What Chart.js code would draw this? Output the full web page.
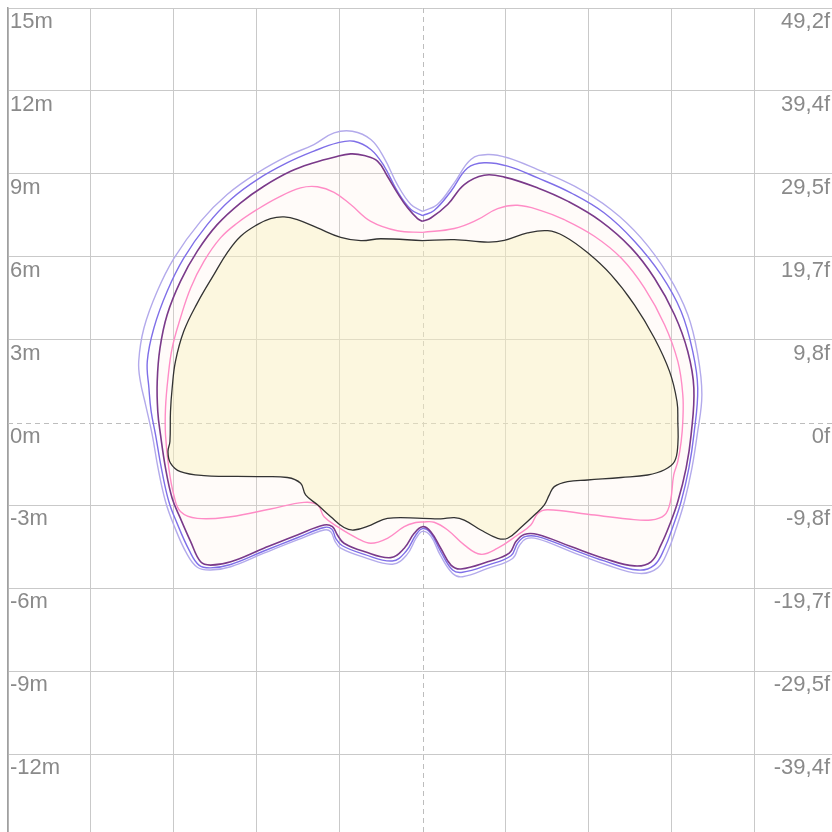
<!DOCTYPE html>
<html>
<head>
<meta charset="utf-8">
<script src="https://cdn.jsdelivr.net/npm/chart.js@4"></script>
<style>
  html, body { margin: 0; padding: 0; overflow: hidden; background: #fff; }
  #wrap { position: absolute; left: 0; top: 0; width: 837px; height: 837px; }
</style>
</head>
<body>
<div id="wrap"><canvas id="chart"></canvas></div>
<script>
// Axis ticks (metres on the left, feet on the right)
const tickValues = [15, 12, 9, 6, 3, 0, -3, -6, -9, -12, -15];
const metreLabels = ['15m', '12m', '9m', '6m', '3m', '0m', '-3m', '-6m', '-9m', '-12m', '-15m'];
const feetLabels = ['49,2f', '39,4f', '29,5f', '19,7f', '9,8f', '0f', '-9,8f', '-19,7f', '-29,5f', '-39,4f', '-49,2f'];

// Contours, [x, y] in metres
const innerBlack = [
  [0, 6.58], [-1.51, 6.65], [-2.23, 6.58], [-2.96, 6.70], [-3.80, 7.04], [-4.53, 7.34], [-5.01, 7.44],
  [-5.50, 7.38], [-5.98, 7.16], [-6.58, 6.74], [-7.07, 6.14], [-7.55, 5.35], [-8.15, 4.32], [-8.64, 3.30],
  [-8.94, 2.21], [-9.06, 1.24], [-9.12, 0.40], [-9.14, -0.69], [-9.21, -1.05], [-9.12, -1.47], [-8.76, -1.78],
  [-7.91, -1.92], [-5.98, -1.96], [-4.89, -1.99], [-4.41, -2.20], [-4.23, -2.62], [-3.80, -2.98], [-3.32, -3.41],
  [-2.84, -3.80], [-2.48, -3.89], [-1.87, -3.71], [-1.27, -3.47], [0, -3.47], [0.66, -3.49], [1.15, -3.44],
  [1.51, -3.53], [2.11, -3.89], [2.72, -4.19], [3.08, -4.19], [3.56, -3.80], [4.05, -3.35], [4.41, -2.98],
  [4.59, -2.62], [4.77, -2.32], [5.25, -2.14], [5.98, -2.08], [7.19, -1.99], [8.15, -1.90], [8.76, -1.71],
  [9.12, -1.41], [9.24, -0.81], [9.24, 0.04], [9.21, 0.76], [8.94, 1.85], [8.39, 3.06], [7.67, 4.26],
  [6.82, 5.35], [5.98, 6.14], [5.13, 6.74], [4.53, 6.94], [3.80, 6.86], [2.96, 6.59], [2.36, 6.53],
  [1.15, 6.62], [0, 6.58]
];
const pinkLine = [
  [0, 6.88], [-0.91, 6.94], [-1.87, 7.28], [-2.60, 7.89], [-3.20, 8.33], [-3.80, 8.53], [-4.41, 8.49],
  [-5.25, 8.13], [-5.98, 7.71], [-6.70, 7.22], [-7.31, 6.68], [-7.91, 5.83], [-8.39, 4.87], [-8.76, 3.78],
  [-9.06, 2.69], [-9.21, 1.61], [-9.30, 0.52], [-9.30, -0.45], [-9.18, -1.65], [-9.00, -2.62], [-8.76, -3.22],
  [-8.15, -3.47], [-6.94, -3.41], [-5.50, -3.13], [-4.29, -2.89], [-3.80, -2.98], [-3.56, -3.41], [-3.08, -3.77],
  [-2.36, -4.19], [-1.87, -4.37], [-1.27, -4.19], [-0.66, -3.77], [-0.24, -3.62], [0, -3.60], [0.42, -3.61],
  [0.91, -3.89], [1.51, -4.43], [2.11, -4.77], [2.72, -4.55], [3.44, -4.07], [3.92, -3.71], [4.17, -3.29],
  [4.53, -3.16], [5.98, -3.32], [7.43, -3.49], [8.27, -3.53], [8.76, -3.35], [8.97, -2.86], [9.09, -1.90],
  [9.24, -1.41], [9.36, -0.69], [9.42, 0.04], [9.42, 1.00], [9.24, 2.21], [8.76, 3.54], [8.03, 4.87],
  [7.19, 5.95], [6.22, 6.74], [5.13, 7.34], [4.29, 7.67], [3.44, 7.86], [2.72, 7.74], [1.99, 7.34],
  [1.15, 7.02], [0, 6.88]
];
const purpleLine = [
  [0, 7.28], [-0.18, 7.38], [-0.54, 7.77], [-0.91, 8.31], [-1.27, 8.91], [-1.63, 9.46], [-2.11, 9.66],
  [-2.60, 9.72], [-3.20, 9.60], [-3.93, 9.40], [-4.77, 9.09], [-5.74, 8.55], [-6.58, 7.95], [-7.43, 7.16],
  [-8.15, 6.20], [-8.76, 5.11], [-9.24, 3.90], [-9.50, 2.69], [-9.60, 1.49], [-9.58, 0.40], [-9.48, -0.45],
  [-9.30, -1.65], [-9.06, -2.74], [-8.76, -3.47], [-8.39, -4.31], [-8.03, -5.04], [-7.67, -5.16], [-6.94, -5.04],
  [-5.74, -4.55], [-4.53, -4.07], [-3.56, -3.71], [-3.26, -3.77], [-3.08, -4.07], [-2.84, -4.37], [-2.11, -4.67],
  [-1.15, -4.89], [-0.66, -4.55], [-0.30, -4.01], [0, -3.77], [0.30, -3.95], [0.66, -4.55], [1.03, -5.16],
  [1.39, -5.30], [2.36, -5.04], [3.14, -4.73], [3.38, -4.31], [3.68, -4.05], [4.17, -4.05], [5.37, -4.49],
  [6.58, -4.92], [7.67, -5.19], [8.27, -5.04], [8.63, -4.43], [8.94, -3.71], [9.24, -2.86], [9.54, -1.65],
  [9.72, -0.45], [9.82, 1.24], [9.60, 2.57], [9.12, 3.90], [8.39, 5.23], [7.55, 6.32], [6.46, 7.28],
  [5.25, 8.01], [4.17, 8.49], [2.96, 8.88], [2.23, 8.95], [1.51, 8.61], [0.91, 7.89], [0.30, 7.40], [0, 7.28]
];
const blueLine = [
  [0, 7.49], [-0.42, 7.71], [-0.91, 8.37], [-1.39, 9.28], [-1.87, 9.88], [-2.48, 10.18], [-3.08, 10.12],
  [-3.93, 9.82], [-4.89, 9.40], [-5.98, 8.79], [-6.94, 8.07], [-7.79, 7.16], [-8.64, 5.95], [-9.24, 4.75],
  [-9.72, 3.42], [-9.96, 2.21], [-9.90, 1.24], [-9.82, 0.40], [-9.66, -0.45], [-9.45, -1.65], [-9.18, -2.86],
  [-8.88, -3.65], [-8.45, -4.61], [-8.09, -5.16], [-7.67, -5.26], [-6.94, -5.14], [-5.74, -4.65], [-4.53, -4.17],
  [-3.56, -3.80], [-3.28, -3.86], [-3.14, -4.19], [-2.90, -4.46], [-2.11, -4.77], [-1.09, -5.01], [-0.60, -4.67],
  [-0.24, -4.07], [0, -3.84], [0.30, -4.01], [0.66, -4.67], [1.09, -5.34], [1.45, -5.42], [2.36, -5.16],
  [3.20, -4.82], [3.44, -4.37], [3.71, -4.13], [4.17, -4.13], [5.37, -4.57], [6.58, -5.01], [7.79, -5.34],
  [8.39, -5.16], [8.76, -4.55], [9.06, -3.77], [9.36, -2.86], [9.64, -1.65], [9.82, -0.45], [9.96, 1.24],
  [9.78, 2.57], [9.36, 4.02], [8.63, 5.35], [7.67, 6.56], [6.58, 7.58], [5.37, 8.31], [4.17, 8.85],
  [3.08, 9.28], [2.23, 9.40], [1.63, 9.21], [1.03, 8.37], [0.42, 7.67], [0, 7.49]
];
const lavenderLine = [
  [0, 7.64], [-0.42, 7.89], [-0.91, 8.61], [-1.39, 9.58], [-1.87, 10.24], [-2.54, 10.54], [-3.20, 10.48],
  [-3.93, 10.06], [-4.89, 9.64], [-5.98, 9.03], [-7.07, 8.25], [-8.03, 7.28], [-8.99, 5.95], [-9.60, 4.75],
  [-10.08, 3.42], [-10.27, 2.21], [-10.21, 1.49], [-10.02, 0.64], [-9.78, -0.45], [-9.57, -1.65], [-9.30, -2.86],
  [-9.00, -3.71], [-8.54, -4.73], [-8.15, -5.24], [-7.67, -5.34], [-6.94, -5.22], [-5.74, -4.73], [-4.53, -4.25],
  [-3.56, -3.89], [-3.32, -3.95], [-3.17, -4.29], [-2.96, -4.55], [-2.11, -4.88], [-1.09, -5.13], [-0.57, -4.79],
  [-0.22, -4.17], [0, -3.94], [0.30, -4.11], [0.64, -4.79], [1.09, -5.46], [1.45, -5.58], [2.36, -5.28],
  [3.26, -4.92], [3.50, -4.46], [3.74, -4.21], [4.17, -4.21], [5.37, -4.67], [6.58, -5.12], [7.85, -5.46],
  [8.51, -5.26], [8.88, -4.65], [9.18, -3.83], [9.48, -2.86], [9.75, -1.65], [9.94, -0.45], [10.11, 1.00],
  [9.96, 2.45], [9.60, 3.90], [8.88, 5.35], [7.91, 6.68], [6.82, 7.71], [5.50, 8.55], [4.17, 9.15],
  [3.08, 9.58], [2.36, 9.70], [1.75, 9.52], [1.15, 8.67], [0.54, 7.89], [0, 7.64]
];

const toPoints = arr => arr.map(p => ({ x: p[0], y: p[1] }));
const labelFor = (labels) => (v) => {
  const i = tickValues.indexOf(v);
  return i >= 0 ? labels[i] : '';
};

// dashed zero lines under the contours
const zeroLines = {
  id: 'zeroLines',
  beforeDatasetsDraw(chart) {
    const { ctx, chartArea: a, scales } = chart;
    const x0 = Math.round(scales.x.getPixelForValue(0)) + 0.5;
    const y0 = Math.round(scales.y.getPixelForValue(0)) + 0.5;
    ctx.save();
    ctx.strokeStyle = '#bdbdbd';
    ctx.lineWidth = 1;
    ctx.setLineDash([5, 4]);
    ctx.beginPath();
    ctx.moveTo(x0, a.top); ctx.lineTo(x0, a.bottom);
    ctx.moveTo(a.left, y0); ctx.lineTo(a.right, y0);
    ctx.stroke();
    ctx.restore();
  }
};

const gridColor = c => (c.tick && c.tick.value === 0) ? 'rgba(0,0,0,0)' : '#c9c9c9';
const tickFont = { family: 'Liberation Sans, Arial, sans-serif', size: 22 };
// mirrored axes take no room
const noRoom = (s) => {
  if (s.isHorizontal()) s.height = 0; else s.width = 0;
  s.paddingTop = 0; s.paddingBottom = 0; s.paddingLeft = 0; s.paddingRight = 0;
};

new Chart(document.getElementById('chart'), {
  type: 'scatter',
  data: {
    datasets: [
      { data: toPoints(innerBlack), borderColor: '#333333', borderWidth: 1.3, fill: 'shape', backgroundColor: 'rgba(248,240,185,0.42)' },
      { data: toPoints(pinkLine), borderColor: '#ff8cc6', borderWidth: 1.4, fill: false },
      { data: toPoints(purpleLine), borderColor: '#7a3a8a', borderWidth: 1.6, fill: 'shape', backgroundColor: 'rgba(255,230,220,0.16)' },
      { data: toPoints(blueLine), borderColor: '#7f6fe8', borderWidth: 1.4, fill: false },
      { data: toPoints(lavenderLine), borderColor: '#b3aaeb', borderWidth: 1.4, fill: false }
    ]
  },
  options: {
    responsive: true,
    maintainAspectRatio: false,
    animation: false,
    layout: { padding: { left: 8, top: 8, right: 0, bottom: 0 } },
    showLine: true,
    elements: {
      point: { radius: 0, hoverRadius: 0 },
      line: { tension: 0.4 }
    },
    plugins: { legend: { display: false }, tooltip: { enabled: false } },
    scales: {
      x: {
        type: 'linear', min: -15, max: 15,
        ticks: { display: false, stepSize: 3 },
        grid: { color: gridColor, drawTicks: false },
        border: { display: false },
        afterFit: noRoom
      },
      y: {
        type: 'linear', position: 'left', min: -15, max: 15,
        afterBuildTicks(s) { s.ticks = tickValues.map(v => ({ value: v })); },
        ticks: { mirror: true, padding: 2, labelOffset: 14, color: '#8a8a8a', font: tickFont, autoSkip: false, callback: labelFor(metreLabels) },
        grid: { color: gridColor, drawTicks: false },
        border: { color: '#a0a0a0', width: 1.5 },
        afterFit: noRoom
      },
      y2: {
        type: 'linear', position: 'right', min: -15, max: 15,
        afterBuildTicks(s) { s.ticks = tickValues.map(v => ({ value: v })); },
        ticks: { mirror: true, padding: -7, labelOffset: 14, color: '#8a8a8a', font: tickFont, autoSkip: false, callback: labelFor(feetLabels) },
        grid: { display: false, drawTicks: false },
        border: { display: false },
        afterFit: noRoom
      }
    }
  },
  plugins: [zeroLines]
});
</script>
</body>
</html>
